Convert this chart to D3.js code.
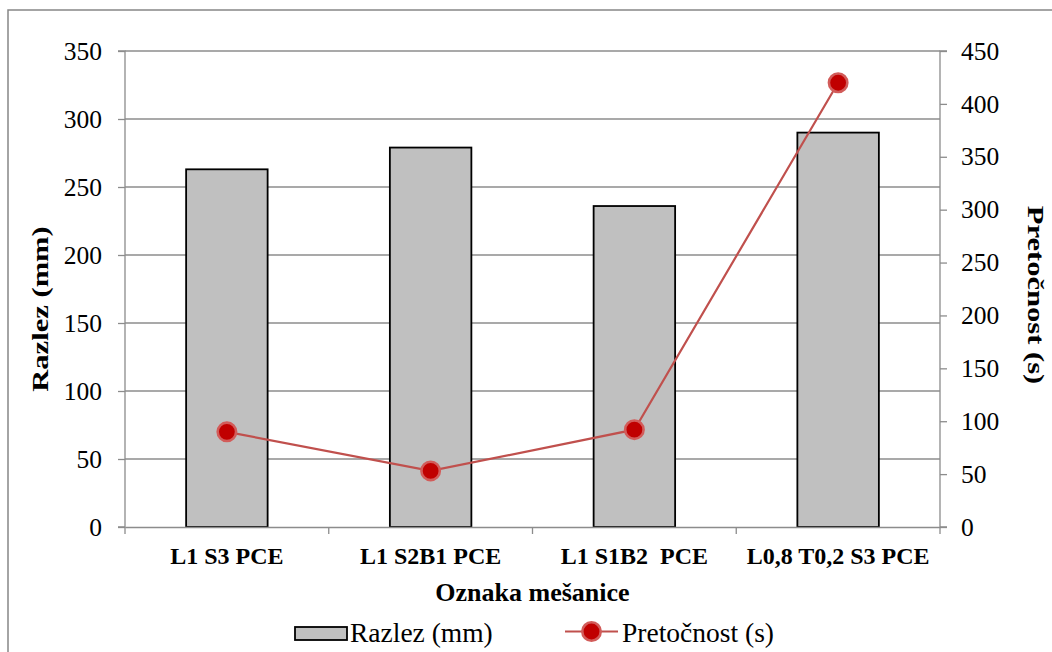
<!DOCTYPE html>
<html><head><meta charset="utf-8">
<script src="https://cdn.jsdelivr.net/npm/d3@7"></script>
<style>body{margin:0;background:#fff}svg{display:block}</style>
</head><body>
<svg id="c" width="1052" height="652"></svg>
<script>
const categories = ["L1 S3 PCE", "L1 S2B1 PCE", "L1 S1B2  PCE", "L0,8 T0,2 S3 PCE"];
const razlez = [263, 279, 236, 290];
const pretocnost = [90, 53, 92, 420];
const leftTicks = [0, 50, 100, 150, 200, 250, 300, 350];
const rightTicks = [0, 50, 100, 150, 200, 250, 300, 350, 400, 450];

const FONT = "'Liberation Serif', 'Times New Roman', Tinos, 'DejaVu Serif', serif";
const svg = d3.select("#c").style("font-family", FONT);
const m = {l: 125, r: 940, t: 51, b: 527};
svg.append("rect").attr("x", 8).attr("y", 10).attr("width", 1060).attr("height", 660)
  .attr("fill", "#fff").attr("stroke", "#878787").attr("stroke-width", 1.5);

const x = d3.scaleBand().domain(categories).range([m.l, m.r]).paddingInner(0).paddingOuter(0);
const yL = d3.scaleLinear().domain([0, 350]).range([m.b, m.t]);
const yR = d3.scaleLinear().domain([0, 450]).range([m.b, m.t]);
const grid = "#8c8c8c";

function styleText(sel, size, bold) {
  sel.style("font-family", FONT).style("font-size", size + "px")
     .style("font-weight", bold ? "bold" : "normal").style("fill", "#000");
}

// gridlines
svg.append("g").selectAll("line").data(leftTicks.slice(1)).join("line")
  .attr("x1", m.l).attr("x2", m.r).attr("y1", d => yL(d)).attr("y2", d => yL(d))
  .attr("stroke", grid).attr("stroke-width", 1.3);

// left axis
const gl = svg.append("g").attr("transform", `translate(${m.l},0)`)
  .call(d3.axisLeft(yL).tickValues(leftTicks).tickSize(7).tickPadding(16));
gl.select(".domain").attr("stroke", grid).attr("stroke-width", 1.3).attr("d", `M-7,${m.b}H0V${m.t}H-7`);
gl.selectAll(".tick line").attr("stroke", grid).attr("stroke-width", 1.3);
styleText(gl.selectAll(".tick text"), 25.5, false);

// right axis
const gr = svg.append("g").attr("transform", `translate(${m.r},0)`)
  .call(d3.axisRight(yR).tickValues(rightTicks).tickSize(7).tickPadding(14));
gr.select(".domain").attr("stroke", grid).attr("stroke-width", 1.3).attr("d", `M7,${m.b}H0V${m.t}H7`);
gr.selectAll(".tick line").attr("stroke", grid).attr("stroke-width", 1.3);
styleText(gr.selectAll(".tick text"), 25.5, false);

// bars
const bw = x.bandwidth() * 0.4;
svg.append("g").selectAll("rect").data(razlez).join("rect")
  .attr("x", (d, i) => x(categories[i]) + x.bandwidth() / 2 - bw / 2)
  .attr("y", d => yL(d)).attr("width", bw).attr("height", d => m.b - yL(d))
  .attr("fill", "#c0c0c0").attr("stroke", "#000").attr("stroke-width", 1.8);

// x axis
const gx = svg.append("g").attr("transform", `translate(0,${m.b})`)
  .call(d3.axisBottom(x).tickSize(0).tickPadding(0));
gx.select(".domain").attr("stroke", grid).attr("stroke-width", 1.3);
styleText(gx.selectAll(".tick text"), 24, true);
gx.selectAll(".tick text").attr("y", 37).attr("dy", 0).style("white-space", "pre");
const bounds = categories.map(c => x(c)).concat([m.r]);
svg.append("g").selectAll("line").data(bounds).join("line")
  .attr("x1", d => d).attr("x2", d => d).attr("y1", m.b).attr("y2", m.b + 7)
  .attr("stroke", grid).attr("stroke-width", 1.3);

// line
const cx = (d, i) => x(categories[i]) + x.bandwidth() / 2;
svg.append("path").datum(pretocnost)
  .attr("d", d3.line().x(cx).y(d => yR(d)))
  .attr("fill", "none").attr("stroke", "#c0504d").attr("stroke-width", 2.2);
svg.append("g").selectAll("circle").data(pretocnost).join("circle")
  .attr("cx", cx).attr("cy", d => yR(d)).attr("r", 9.2)
  .attr("fill", "#c00000").attr("stroke", "#d25c5a").attr("stroke-width", 2.6);

// titles
styleText(svg.append("text").attr("transform", `translate(48,309) rotate(-90) scale(1.33,1)`)
  .attr("text-anchor", "middle").text("Razlez (mm)"), 23, true);
styleText(svg.append("text").attr("transform", `translate(1028,295) rotate(90) scale(1.33,1)`)
  .attr("text-anchor", "middle").text("Pretočnost (s)"), 23, true);
styleText(svg.append("text").attr("x", (m.l + m.r) / 2).attr("y", 601)
  .attr("text-anchor", "middle").text("Oznaka mešanice"), 26, true);

// legend
svg.append("rect").attr("x", 295).attr("y", 627).attr("width", 52).attr("height", 13)
  .attr("fill", "#c0c0c0").attr("stroke", "#000").attr("stroke-width", 1.8);
styleText(svg.append("text").attr("x", 350).attr("y", 641.5).text("Razlez (mm)"), 27.5, false);
svg.append("line").attr("x1", 565).attr("x2", 618).attr("y1", 631.5).attr("y2", 631.5)
  .attr("stroke", "#c0504d").attr("stroke-width", 2.2);
svg.append("circle").attr("cx", 591.5).attr("cy", 631.5).attr("r", 9.2)
  .attr("fill", "#c00000").attr("stroke", "#d25c5a").attr("stroke-width", 2.6);
styleText(svg.append("text").attr("x", 622).attr("y", 641.5).text("Pretočnost (s)"), 27.5, false);
</script>
</body></html>
